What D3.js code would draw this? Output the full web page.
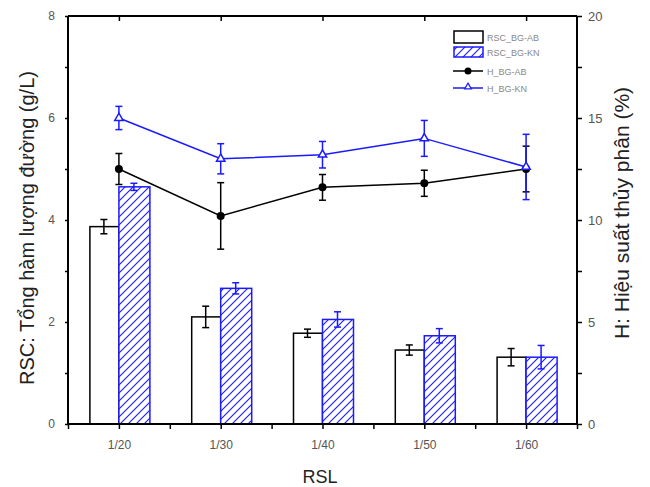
<!DOCTYPE html>
<html>
<head>
<meta charset="utf-8">
<script src="https://cdn.jsdelivr.net/npm/d3@7"></script>
<style>
    body { margin: 0; background: #fff; }
    svg { font-family: "Liberation Sans", Arial, sans-serif; }
</style>
</head>
<body>
<div id="chart"></div>
<script>
// Data
const categories = ["1/20", "1/30", "1/40", "1/50", "1/60"];
const rscAB = [3.87, 2.10, 1.78, 1.45, 1.31];
const rscABErr = [0.14, 0.21, 0.08, 0.10, 0.17];
const rscKN = [4.65, 2.66, 2.05, 1.73, 1.31];
const rscKNErr = [0.07, 0.11, 0.15, 0.14, 0.23];
const hAB = [12.5, 10.2, 11.6, 11.8, 12.5];
const hABErr = [0.76, 1.63, 0.63, 0.64, 1.12];
const hKN = [15.0, 13.0, 13.2, 14.0, 12.6];
const hKNErr = [0.57, 0.74, 0.65, 0.88, 1.6];
const leftTicks = [0, 2, 4, 6, 8];
const rightTicks = [0, 5, 10, 15, 20];

const width = 650, height = 487;
const pLeft = 68, pRight = 577, pTop = 16, pBottom = 424;
const blue = "#1a1aff";

let svg = d3.select("#chart").append("svg")
    .attr("width", width)
    .attr("height", height);

// hatch pattern for the KN bars
let defs = svg.append("defs");
let pat = defs.append("pattern")
    .attr("id", "hatch")
    .attr("patternUnits", "userSpaceOnUse")
    .attr("width", 8)
    .attr("height", 8);
pat.append("rect").attr("width", 8).attr("height", 8).attr("fill", "#fff");
pat.append("path")
    .attr("d", "M-2,2 L2,-2 M0,8 L8,0 M6,10 L10,6")
    .attr("stroke", blue)
    .attr("stroke-width", 1.1);

// scales
let x = d3.scaleLinear().domain([0.5, 5.5]).range([pLeft, pRight]);
let yL = d3.scaleLinear().domain([0, 8]).range([pBottom, pTop]);
let yR = d3.scaleLinear().domain([0, 20]).range([pBottom, pTop]);

const barW = 30;

// bars
svg.append("g").selectAll("rect")
    .data(rscAB)
    .enter().append("rect")
    .attr("x", (d, i) => x(i + 1) - barW + 1)
    .attr("y", d => yL(d))
    .attr("width", barW - 1)
    .attr("height", d => yL(0) - yL(d))
    .attr("fill", "#fff")
    .attr("stroke", "#000")
    .attr("stroke-width", 1.5);

svg.append("g").selectAll("rect")
    .data(rscKN)
    .enter().append("rect")
    .attr("x", (d, i) => x(i + 1))
    .attr("y", d => yL(d))
    .attr("width", barW + 1)
    .attr("height", d => yL(0) - yL(d))
    .attr("fill", "url(#hatch)")
    .attr("stroke", blue)
    .attr("stroke-width", 1.5);

// error bar helper
function errBars(vals, errs, cx, yScale, color, cap) {
    let g = svg.append("g").attr("stroke", color).attr("stroke-width", 1.5);
    vals.forEach((v, i) => {
        let px = cx(i);
        let y1 = yScale(v - errs[i]), y2 = yScale(v + errs[i]);
        g.append("line").attr("x1", px).attr("x2", px).attr("y1", y1).attr("y2", y2);
        g.append("line").attr("x1", px - cap).attr("x2", px + cap).attr("y1", y1).attr("y2", y1);
        g.append("line").attr("x1", px - cap).attr("x2", px + cap).attr("y1", y2).attr("y2", y2);
    });
}

errBars(rscAB, rscABErr, i => x(i + 1) - barW / 2, yL, "#000", 3.5);
errBars(rscKN, rscKNErr, i => x(i + 1) + barW / 2, yL, blue, 3.5);

// lines
let line = d3.line()
    .x((d, i) => x(i + 1))
    .y(d => yR(d));

svg.append("path").datum(hAB)
    .attr("fill", "none").attr("stroke", "#000").attr("stroke-width", 1.5)
    .attr("d", line);
svg.append("path").datum(hKN)
    .attr("fill", "none").attr("stroke", blue).attr("stroke-width", 1.5)
    .attr("d", line);

errBars(hAB, hABErr, i => x(i + 1), yR, "#000", 3.5);
errBars(hKN, hKNErr, i => x(i + 1), yR, blue, 3.5);

svg.append("g").selectAll("circle")
    .data(hAB)
    .enter().append("circle")
    .attr("cx", (d, i) => x(i + 1))
    .attr("cy", d => yR(d))
    .attr("r", 4)
    .attr("fill", "#000");

svg.append("g").selectAll("path")
    .data(hKN)
    .enter().append("path")
    .attr("transform", (d, i) => `translate(${x(i + 1)},${yR(d)})`)
    .attr("d", d3.symbol().type(d3.symbolTriangle).size(30))
    .attr("fill", "#fff")
    .attr("stroke", blue)
    .attr("stroke-width", 1.5);

// axes
let axisB = d3.axisBottom(x)
    .tickValues(d3.range(0.5, 5.51, 0.5))
    .tickSize(5)
    .tickFormat(d => Number.isInteger(d) ? categories[d - 1] : "");
let gB = svg.append("g")
    .attr("transform", `translate(0,${pBottom})`)
    .call(axisB);

let axisT = d3.axisTop(x)
    .tickValues(d3.range(1, 5.1, 1))
    .tickSize(-5)
    .tickFormat("");
let gT = svg.append("g")
    .attr("transform", `translate(0,${pTop})`)
    .call(axisT);

let axisL = d3.axisLeft(yL)
    .tickValues(d3.range(0, 8.1, 1))
    .tickSize(3)
    .tickPadding(10)
    .tickFormat(d => leftTicks.includes(d) ? d : "");
let gL = svg.append("g")
    .attr("transform", `translate(${pLeft},0)`)
    .call(axisL);

let axisR = d3.axisRight(yR)
    .tickValues(d3.range(0, 20.1, 2.5))
    .tickSize(5)
    .tickPadding(6)
    .tickFormat(d => rightTicks.includes(d) ? d : "");
let gR = svg.append("g")
    .attr("transform", `translate(${pRight},0)`)
    .call(axisR);

[gB, gT, gL, gR].forEach(g => {
    g.select(".domain").attr("stroke", "#000").attr("stroke-width", 2);
    g.selectAll(".tick line").attr("stroke", "#000").attr("stroke-width", 1.5);
    g.selectAll("text").attr("fill", "#555").style("font-size", "12px");
});
gB.selectAll("text").attr("dy", "1.4em");
gR.selectAll("text").style("font-size", "13px");
gT.select(".domain").attr("d", `M${pLeft},0H${pRight}`);
gB.select(".domain").attr("d", `M${pLeft},0H${pRight}`);
gL.select(".domain").attr("d", `M0,${pBottom}V${pTop}`);
gR.select(".domain").attr("d", `M0,${pBottom}V${pTop}`);

// axis titles
svg.append("text")
    .attr("x", 320).attr("y", 483)
    .attr("text-anchor", "middle")
    .style("font-size", "18px")
    .attr("fill", "#222")
    .text("RSL");

svg.append("text")
    .attr("transform", "translate(34,228) rotate(-90)")
    .attr("text-anchor", "middle")
    .style("font-size", "20px")
    .attr("fill", "#222")
    .text("RSC: Tổng hàm lượng đường (g/L)");

svg.append("text")
    .attr("transform", "translate(629,213) rotate(-90)")
    .attr("text-anchor", "middle")
    .style("font-size", "21px")
    .attr("fill", "#222")
    .text("H: Hiệu suất thủy phân (%)");

// legend
const legendNames = ["RSC_BG-AB", "RSC_BG-KN", "H_BG-AB", "H_BG-KN"];
let lg = svg.append("g");
lg.append("rect").attr("x", 454).attr("y", 31).attr("width", 29).attr("height", 12)
    .attr("fill", "#fff").attr("stroke", "#000").attr("stroke-width", 1.5);
lg.append("rect").attr("x", 454).attr("y", 47).attr("width", 29).attr("height", 10)
    .attr("fill", "url(#hatch)").attr("stroke", blue).attr("stroke-width", 1.5);
lg.append("line").attr("x1", 453).attr("x2", 483).attr("y1", 71).attr("y2", 71)
    .attr("stroke", "#000").attr("stroke-width", 1.5);
lg.append("circle").attr("cx", 468).attr("cy", 71).attr("r", 3.5).attr("fill", "#000");
lg.append("line").attr("x1", 453).attr("x2", 483).attr("y1", 88).attr("y2", 88)
    .attr("stroke", blue).attr("stroke-width", 1.5);
lg.append("path").attr("transform", "translate(468,87)")
    .attr("d", d3.symbol().type(d3.symbolTriangle).size(20))
    .attr("fill", "#fff").attr("stroke", blue).attr("stroke-width", 1.2);
const legendY = [38, 53, 72, 89];
lg.selectAll("text.lbl")
    .data(legendNames)
    .enter().append("text")
    .attr("x", 487)
    .attr("y", (d, i) => legendY[i])
    .attr("dy", "0.35em")
    .style("font-size", "9px")
    .attr("fill", "#888")
    .text(d => d);
</script>
</body>
</html>
